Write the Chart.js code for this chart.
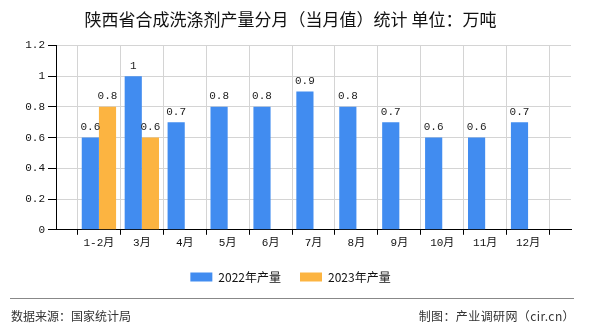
<!DOCTYPE html>
<html>
<head>
<meta charset="utf-8">
<script src="https://cdn.jsdelivr.net/npm/chart.js@4/dist/chart.umd.min.js"></script>
<style>
  body { margin: 0; background: #fff; }
  #wrap { position: relative; width: 590px; height: 330px; }
  #foot-line { position: absolute; left: 10px; top: 298px; width: 564px; height: 1px; background: #888; }
  .foot { position: absolute; top: 307px; font: 12px "Noto Sans CJK SC", sans-serif; color: #333; }
</style>
</head>
<body>
<div id="wrap">
  <canvas id="chart" width="590" height="330"></canvas>
  <div id="foot-line"></div>
  <div class="foot" style="left:11px">数据来源：国家统计局</div>
  <div class="foot" style="right:15px; letter-spacing:0.4px">制图：产业调研网（cir.cn）</div>
</div>
<script>
// ---------- Data ----------
const months = ["1-2月", "3月", "4月", "5月", "6月", "7月", "8月", "9月", "10月", "11月", "12月"];
const output2022 = [0.6, 1, 0.7, 0.8, 0.8, 0.9, 0.8, 0.7, 0.6, 0.6, 0.7];
const output2023 = [0.8, 0.6, null, null, null, null, null, null, null, null, null];
const yTicks = [0, 0.2, 0.4, 0.6, 0.8, 1, 1.2];

// axis runs a full slot past first/last month, so pad with empty labels
const labels = [""].concat(months, [""]);
const pad = (arr) => [null].concat(arr, [null]);

const numFont = { family: '"Liberation Mono", "Noto Sans CJK SC", monospace', size: 11 };

// ---------- Value labels above bars ----------
const barLabels = {
  id: "barLabels",
  afterDatasetsDraw(chart) {
    const ctx = chart.ctx;
    ctx.save();
    ctx.font = '11px "Liberation Mono", monospace';
    ctx.fillStyle = "#222";
    ctx.textAlign = "center";
    ctx.textBaseline = "bottom";
    chart.data.datasets.forEach((ds, i) => {
      const meta = chart.getDatasetMeta(i);
      if (meta.hidden) return;
      meta.data.forEach((bar, j) => {
        const v = ds.data[j];
        if (v == null) return;
        ctx.fillText(String(v), bar.x, bar.y - 5);
      });
    });
    ctx.restore();
  },
};

new Chart(document.getElementById("chart"), {
  type: "bar",
  data: {
    labels: labels,
    datasets: [
      { label: "2022年产量", data: pad(output2022), backgroundColor: "#418CF0" },
      { label: "2023年产量", data: pad(output2023), backgroundColor: "#FCB441" },
    ],
  },
  options: {
    responsive: false,
    animation: false,
    layout: { padding: { left: 10, right: 19, top: 0, bottom: 37 } },
    datasets: { bar: { categoryPercentage: 0.8, barPercentage: 1.0 } },
    plugins: {
      title: {
        display: true,
        text: "陕西省合成洗涤剂产量分月（当月值）统计 单位：万吨",
        color: "#111",
        font: { family: '"Noto Sans CJK SC", sans-serif', size: 17, weight: "normal" },
        padding: { top: 9, bottom: 16 },
      },
      legend: {
        position: "bottom",
        labels: {
          boxWidth: 22,
          boxHeight: 9,
          padding: 19,
          color: "#111",
          font: { family: '"Noto Sans CJK SC", sans-serif', size: 12 },
        },
      },
      tooltip: { enabled: false },
    },
    scales: {
      x: {
        offset: false,
        grid: { color: "#d4d4d4", tickColor: "#000", tickLength: 5 },
        border: { color: "#000" },
        ticks: { color: "#111", font: numFont, maxRotation: 0, autoSkip: false, padding: 2 },
      },
      y: {
        min: 0,
        max: 1.2,
        afterBuildTicks: (scale) => { scale.ticks = yTicks.map((v) => ({ value: v })); },
        grid: { color: "#d4d4d4", tickColor: "#000", tickLength: 8 },
        border: { color: "#000" },
        ticks: { color: "#111", font: numFont, padding: 3, callback: (v) => String(Math.round(v * 10) / 10) },
        afterFit: (scale) => { scale.width = 46; },
      },
    },
  },
  plugins: [barLabels],
});
</script>
</body>
</html>
